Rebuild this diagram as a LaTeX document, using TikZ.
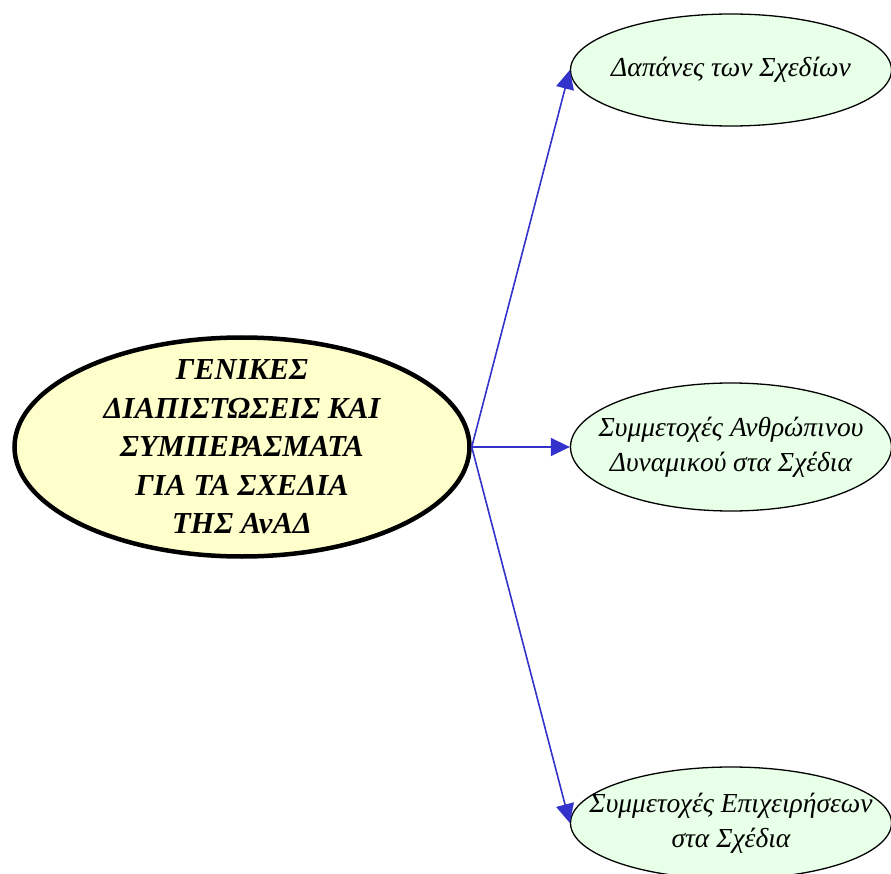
\documentclass[tikz,border=0pt]{standalone}
\usepackage{fontspec}
\setmainfont{Liberation Serif}
\usetikzlibrary{arrows.meta,shapes.geometric}
\definecolor{hubfill}{HTML}{FFFFCC}
\definecolor{leaffill}{HTML}{E8FFE8}
\definecolor{linkblue}{HTML}{3333CC}

\begin{document}
\begin{tikzpicture}[
  x=1pt,y=-1pt,
  hub/.style={draw,ellipse,line width=4.5pt,fill=hubfill,align=center,
              inner xsep=-40pt,inner ysep=-40pt,
              minimum width=455pt,minimum height=219pt,
              font=\fontsize{30.5}{38.5}\selectfont\bfseries\itshape},
  leaf/.style={draw,ellipse,line width=1.3pt,fill=leaffill,align=center,
               inner xsep=-40pt,inner ysep=-10pt,
               minimum width=321pt,minimum height=112pt,
               font=\fontsize{27.5}{35}\selectfont\itshape},
  arrow/.style={-{Triangle[length=19pt,width=18pt]},line width=1.6pt,color=linkblue}
]
\useasboundingbox (0,0) rectangle (891,874);
\node[hub] (findings) at (242,447) {ΓΕΝΙΚΕΣ\\ΔΙΑΠΙΣΤΩΣΕΙΣ ΚΑΙ\\ΣΥΜΠΕΡΑΣΜΑΤΑ\\ΓΙΑ ΤΑ ΣΧΕΔΙΑ\\ΤΗΣ ΑνΑΔ};
\node[leaf] (costs) at (731,70) {Δαπάνες των Σχεδίων};
\node[leaf,minimum height=128pt] (staff) at (731,447) {Συμμετοχές Ανθρώπινου\\Δυναμικού στα Σχέδια};
\node[leaf] (firms) at (731,823) {Συμμετοχές Επιχειρήσεων\\στα Σχέδια};
\draw[arrow] (findings.east)--(costs.west);
\draw[arrow] (findings.east)--(staff.west);
\draw[arrow] (findings.east)--(firms.west);
\end{tikzpicture}
\end{document}
